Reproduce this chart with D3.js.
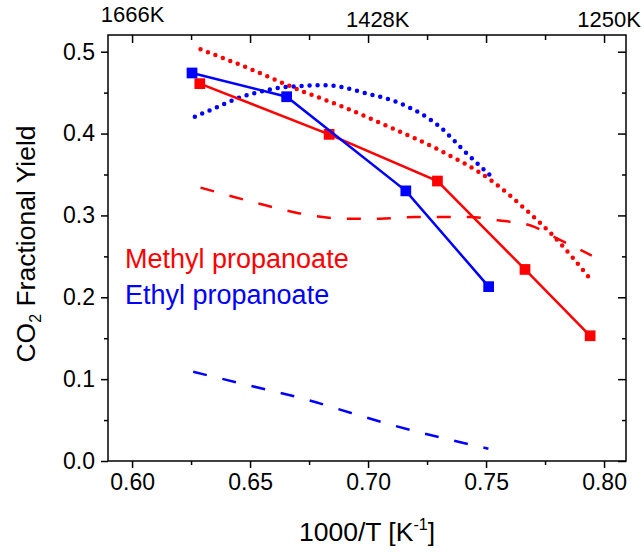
<!DOCTYPE html>
<html>
<head>
<meta charset="utf-8">
<script src="https://cdn.jsdelivr.net/npm/d3@7"></script>
<style>
  body { margin: 0; background: #fff; }
  text { font-family: "Liberation Sans", Arial, sans-serif; }
</style>
</head>
<body>
<div id="chart"></div>
<script>
// canvas size
var WIDTH = 644, HEIGHT = 552;

// axis ticks and labels
var xMajor = [0.60, 0.65, 0.70, 0.75, 0.80];
var xMinor = [0.625, 0.675, 0.725, 0.775];
var yMajor = [0.0, 0.1, 0.2, 0.3, 0.4, 0.5];
var yMinor = [0.05, 0.15, 0.25, 0.35, 0.45];
var topTemps = [1666, 1428, 1250];

// methyl propanoate: experiment (squares) and two model curves
var mpExpX = [0.6287, 0.6835, 0.7294, 0.7665, 0.7941];
var mpExpY = [0.461, 0.399, 0.342, 0.234, 0.153];
var mpDotX = [0.629, 0.650, 0.671, 0.690, 0.709, 0.730, 0.752, 0.768, 0.7785, 0.794];
var mpDotY = [0.503, 0.479, 0.453, 0.432, 0.408, 0.380, 0.343, 0.304, 0.275, 0.223];
var mpDashX = [0.629, 0.653, 0.6655, 0.678, 0.690, 0.705, 0.720, 0.743, 0.755, 0.7686, 0.780, 0.7948];
var mpDashY = [0.334, 0.315, 0.306, 0.299, 0.296, 0.296, 0.298, 0.298, 0.294, 0.288, 0.272, 0.251];

// ethyl propanoate: experiment (squares) and two model curves
var epExpX = [0.6254, 0.6655, 0.716, 0.7511];
var epExpY = [0.474, 0.445, 0.330, 0.213];
var epDotX = [0.6266, 0.635, 0.6457, 0.6555, 0.6655, 0.6824, 0.6994, 0.7135, 0.7305, 0.741, 0.7517];
var epDotY = [0.4205, 0.431, 0.444, 0.452, 0.457, 0.459, 0.449, 0.437, 0.408, 0.378, 0.349];
var epDashX = [0.6259, 0.650, 0.674, 0.6925, 0.7114, 0.736, 0.751];
var epDashY = [0.109, 0.092, 0.075, 0.059, 0.043, 0.025, 0.015];

var RED = "#ff0000", BLUE = "#0000ff";

var margin = {left: 108, right: 18, top: 35, bottom: 91};

var x = d3.scaleLinear().domain([0.5898, 0.8093]).range([margin.left, WIDTH - margin.right]);
var y = d3.scaleLinear().domain([0, 0.5204]).range([HEIGHT - margin.bottom, margin.top]);

var SVG = d3.select("#chart").append("svg")
    .attr("width", WIDTH)
    .attr("height", HEIGHT);

SVG.append("rect").attr("width", WIDTH).attr("height", HEIGHT).attr("fill", "white");

function zip(xs, ys) {
    return xs.map(function (v, i) { return [v, ys[i]]; });
}

/**
 * Axes: bottom and left outward, top and right inward.
 */
var x0 = x.range()[0], x1 = x.range()[1], y0 = y.range()[0], y1 = y.range()[1];

function tickAxis(gen, vals, size) {
    return gen.tickValues(vals).tickSize(size).tickFormat("");
}

var layerAxes = SVG.append("g");

layerAxes.append("g").attr("transform", "translate(0," + y0 + ")")
    .call(tickAxis(d3.axisBottom(x), xMinor, 4));
layerAxes.append("g").attr("transform", "translate(0," + y0 + ")")
    .call(d3.axisBottom(x).tickValues(xMajor).tickSize(7).tickPadding(6)
        .tickFormat(d3.format(".2f")));

layerAxes.append("g").attr("transform", "translate(" + x0 + ",0)")
    .call(tickAxis(d3.axisLeft(y), yMinor, 4));
layerAxes.append("g").attr("transform", "translate(" + x0 + ",0)")
    .call(d3.axisLeft(y).tickValues(yMajor).tickSize(7).tickPadding(6)
        .tickFormat(d3.format(".1f")));

layerAxes.append("g").attr("transform", "translate(0," + y1 + ")")
    .call(tickAxis(d3.axisBottom(x), xMinor, 5));
layerAxes.append("g").attr("transform", "translate(0," + y1 + ")")
    .call(tickAxis(d3.axisBottom(x), xMajor, 8));

layerAxes.append("g").attr("transform", "translate(" + x1 + ",0)")
    .call(tickAxis(d3.axisLeft(y), yMinor, 4));
layerAxes.append("g").attr("transform", "translate(" + x1 + ",0)")
    .call(tickAxis(d3.axisLeft(y), yMajor, 8));

layerAxes.selectAll(".domain").remove();
layerAxes.selectAll(".tick line").attr("stroke", "black").attr("stroke-width", 1.5);
layerAxes.selectAll(".tick text").attr("font-size", 23)
    .attr("font-family", "Liberation Sans, Arial, sans-serif").attr("fill", "black");

layerAxes.append("rect")
    .attr("x", x0).attr("y", y1).attr("width", x1 - x0).attr("height", y0 - y1)
    .attr("fill", "none").attr("stroke", "black").attr("stroke-width", 1.5);

// top temperature labels
SVG.append("g").selectAll("text").data(topTemps).enter().append("text")
    .attr("x", function (d, i) { return x(1000 / d) + (i === 1 ? 9 : (i === 2 ? 5 : 0)); })
    .attr("y", function (d, i) { return i === 0 ? 22 : 27; })
    .attr("text-anchor", "middle").attr("font-size", 22)
    .text(function (d) { return d + "K"; });

// axis titles
var xTitle = SVG.append("text")
    .attr("x", (x0 + x1) / 2).attr("y", 541)
    .attr("text-anchor", "middle").attr("font-size", 26.5);
xTitle.append("tspan").text("1000/T [K");
xTitle.append("tspan").attr("font-size", 16).attr("dy", -11).text("-1");
xTitle.append("tspan").attr("dy", 11).text("]");

var yTitle = SVG.append("text")
    .attr("transform", "translate(35,244) rotate(-90)")
    .attr("text-anchor", "middle").attr("font-size", 26.5);
yTitle.append("tspan").text("CO");
yTitle.append("tspan").attr("font-size", 16).attr("dy", 6).text("2");
yTitle.append("tspan").attr("dy", -6).text(" Fractional Yield");

/**
 * Data layer.
 */
var layerData = SVG.append("g");
var line = d3.line().x(function (d) { return x(d[0]); }).y(function (d) { return y(d[1]); });
var smooth = d3.line().curve(d3.curveMonotoneX)
    .x(function (d) { return x(d[0]); }).y(function (d) { return y(d[1]); });

function dotted(pts, color) {
    layerData.append("path").attr("d", smooth(pts))
        .attr("fill", "none").attr("stroke", color).attr("stroke-width", 4.5)
        .attr("stroke-linecap", "round").attr("stroke-dasharray", "0,8");
}
function dashed(pts, color) {
    layerData.append("path").attr("d", smooth(pts))
        .attr("fill", "none").attr("stroke", color).attr("stroke-width", 2.5)
        .attr("stroke-dasharray", "14,16");
}
function experiment(pts, color) {
    layerData.append("path").attr("d", line(pts))
        .attr("fill", "none").attr("stroke", color).attr("stroke-width", 2.5);
    layerData.append("g").selectAll("path").data(pts).enter().append("path")
        .attr("d", d3.symbol(d3.symbolSquare, 115))
        .attr("transform", function (d) { return "translate(" + x(d[0]) + "," + y(d[1]) + ")"; })
        .attr("fill", color);
}

dotted(zip(mpDotX, mpDotY), RED);
dashed(zip(mpDashX, mpDashY), RED);
dotted(zip(epDotX, epDotY), BLUE);
dashed(zip(epDashX, epDashY), BLUE);
experiment(zip(mpExpX, mpExpY), RED);
experiment(zip(epExpX, epExpY), BLUE);

// legend
SVG.append("text").attr("x", 125).attr("y", 268).attr("font-size", 27)
    .attr("fill", RED).text("Methyl propanoate");
SVG.append("text").attr("x", 125).attr("y", 304).attr("font-size", 27)
    .attr("fill", BLUE).text("Ethyl propanoate");
</script>
</body>
</html>
